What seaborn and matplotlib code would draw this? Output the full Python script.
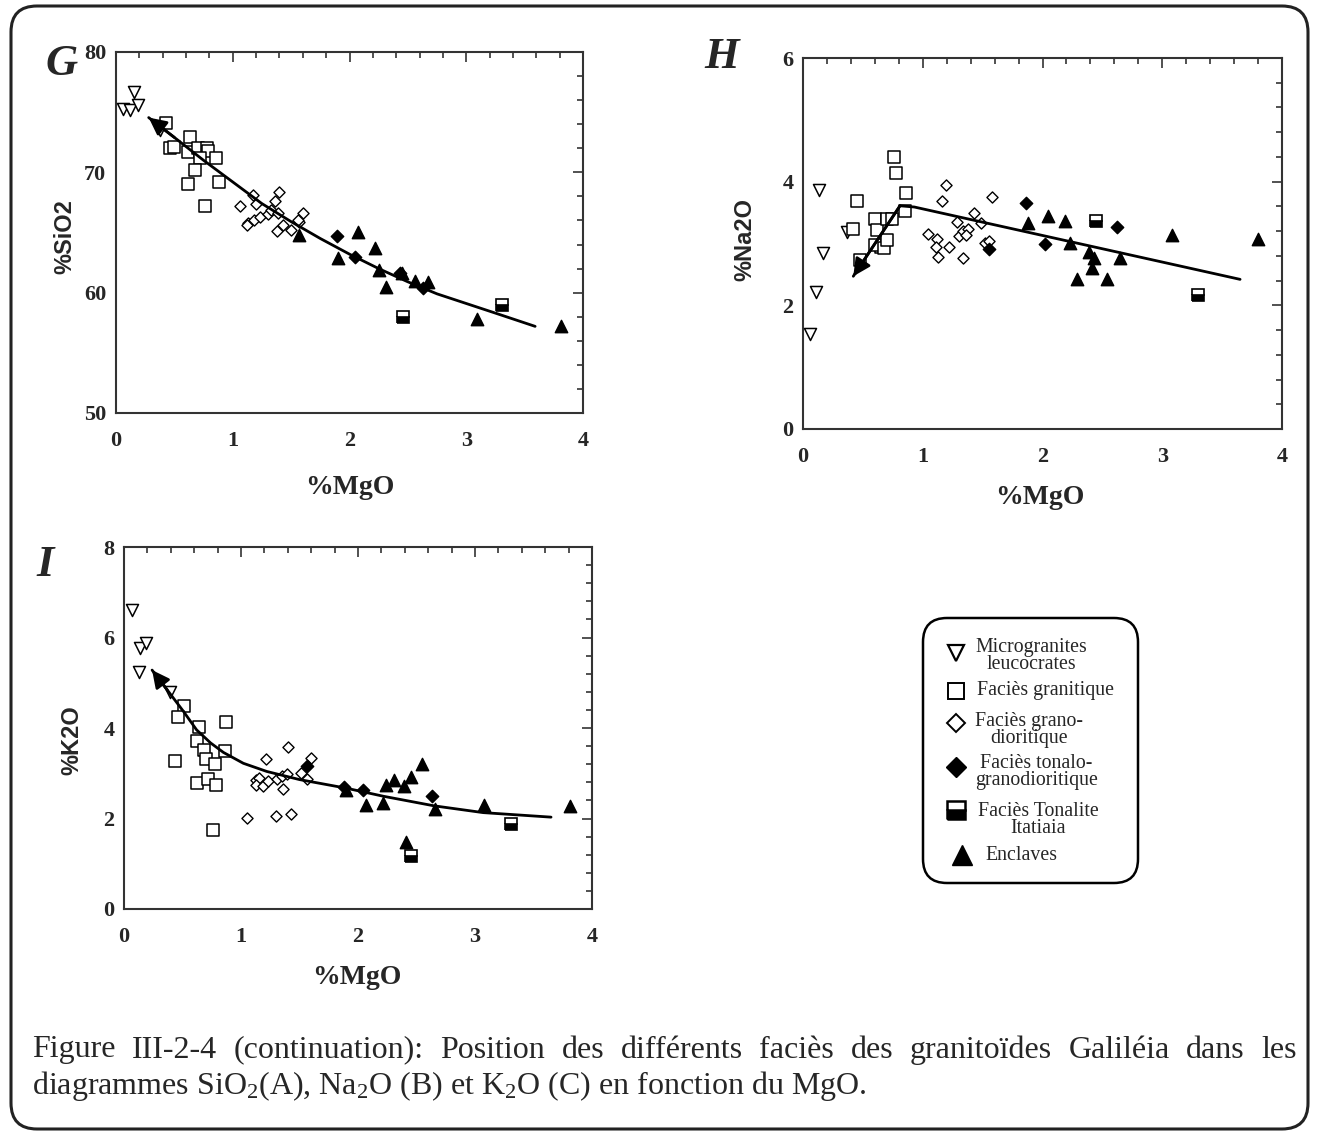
import numpy as np
import pandas as pd
import matplotlib
matplotlib.use("Agg")
import matplotlib.pyplot as plt
import seaborn as sns
from matplotlib.patches import FancyBboxPatch
from matplotlib.ticker import MultipleLocator

# facies codes: mi = microgranites leucocrates, gr = granitique,
# gd = grano-dioritique, tg = tonalo-granodioritique,
# ti = tonalite Itatiaia, en = enclaves
facies_order = ["mi", "gr", "gd", "tg", "ti", "en"]

# --- G : SiO2 vs MgO
g_mgo = [0.06, 0.12, 0.15, 0.19, 0.38,
         0.43, 0.46, 0.50, 0.63, 0.62, 0.70, 0.78, 0.79, 0.72, 0.86, 0.68, 0.62, 0.88, 0.76,
         1.06, 1.17, 1.20, 1.40, 1.36, 1.13, 1.12, 1.18, 1.23, 1.30, 1.33, 1.39, 1.38, 1.43,
         1.50, 1.57, 1.60, 1.56,
         1.89, 2.05, 2.43, 2.63,
         2.46, 3.31,
         1.57, 1.90, 2.07, 2.22, 2.25, 2.31, 2.45, 2.56, 2.67, 3.09, 3.81]
g_sio2 = [75.3, 75.2, 76.7, 75.6, 73.5,
          74.1, 72.0, 72.1, 72.9, 71.7, 72.0, 72.0, 71.8, 71.2, 71.2, 70.2, 69.0, 69.2, 67.2,
          67.2, 68.1, 67.4, 68.4, 67.6, 65.8, 65.6, 66.0, 66.3, 66.5, 66.9, 66.6, 65.1, 65.6,
          65.2, 65.9, 66.6, 66.0,
          64.7, 63.0, 61.6, 60.4,
          58.0, 59.0,
          64.8, 62.9, 65.0, 63.7, 61.9, 60.5, 61.6, 61.0, 60.9, 57.8, 57.2]
g_facies = ["mi"] * 5 + ["gr"] * 14 + ["gd"] * 18 + ["tg"] * 4 + ["ti"] * 2 + ["en"] * 11
g_trend_mgo = [0.28, 0.5, 0.75, 1.0, 1.25, 1.5, 1.75, 2.0, 2.25, 2.5, 2.75, 3.0, 3.25, 3.59]
g_trend_sio2 = [74.55, 72.9, 71.0, 69.2, 67.4, 65.9, 64.5, 63.2, 62.0, 60.9, 59.9, 59.1, 58.3, 57.2]

# --- H : Na2O vs MgO
h_mgo = [0.13, 0.06, 0.11, 0.17, 0.37,
         0.45, 0.42, 0.76, 0.78, 0.86, 0.85, 0.60, 0.62, 0.70, 0.74, 0.65, 0.60, 0.68, 0.70, 0.48,
         1.19, 1.16, 1.04, 1.12, 1.11, 1.13, 1.22, 1.29, 1.30, 1.34, 1.38, 1.36, 1.43, 1.49,
         1.34, 1.58, 1.52, 1.55,
         1.86, 2.02, 2.62, 1.55,
         2.45, 3.30,
         1.88, 2.05, 2.19, 2.23, 2.39, 2.43, 2.41, 2.29, 2.54, 2.65, 3.08, 3.80]
h_na2o = [3.87, 1.53, 2.21, 2.85, 3.18,
          3.69, 3.23, 4.40, 4.14, 3.82, 3.53, 3.40, 3.22, 3.39, 3.40, 2.95, 2.98, 2.93, 3.06, 2.73,
          3.95, 3.69, 3.15, 3.07, 2.94, 2.78, 2.94, 3.34, 3.12, 3.21, 3.24, 3.14, 3.49, 3.33,
          2.77, 3.76, 3.01, 3.04,
          3.66, 2.99, 3.26, 2.91,
          3.37, 2.17,
          3.33, 3.44, 3.36, 3.01, 2.86, 2.77, 2.60, 2.43, 2.43, 2.76, 3.14, 3.07]
h_facies = ["mi"] * 5 + ["gr"] * 15 + ["gd"] * 18 + ["tg"] * 4 + ["ti"] * 2 + ["en"] * 12
h_trend_mgo = [0.42, 0.81, 0.93, 2.0, 3.0, 3.65]
h_trend_na2o = [2.47, 3.61, 3.59, 3.13, 2.70, 2.42]

# --- I : K2O vs MgO
i_mgo = [0.07, 0.14, 0.19, 0.13, 0.39,
         0.51, 0.46, 0.44, 0.64, 0.62, 0.68, 0.70, 0.78, 0.86, 0.87, 0.62, 0.72, 0.79, 0.76,
         1.21, 1.13, 1.15, 1.13, 1.19, 1.23, 1.31, 1.35, 1.39, 1.36, 1.40, 1.51, 1.56, 1.60,
         1.30, 1.43, 1.05,
         1.88, 2.04, 2.63, 1.56,
         2.45, 3.31,
         1.90, 2.07, 2.21, 2.24, 2.31, 2.39, 2.45, 2.55, 2.66, 3.08, 3.81, 2.41]
i_k2o = [6.60, 5.76, 5.88, 5.24, 4.79,
         4.49, 4.24, 3.28, 4.03, 3.72, 3.51, 3.31, 3.21, 3.50, 4.14, 2.78, 2.87, 2.73, 1.75,
         3.31, 2.85, 2.89, 2.74, 2.72, 2.82, 2.87, 2.93, 2.99, 2.65, 3.57, 3.00, 2.87, 3.33,
         2.06, 2.10, 2.01,
         2.69, 2.62, 2.49, 3.15,
         1.18, 1.88,
         2.63, 2.30, 2.34, 2.73, 2.85, 2.72, 2.91, 3.21, 2.21, 2.30, 2.28, 1.49]
i_facies = ["mi"] * 5 + ["gr"] * 14 + ["gd"] * 17 + ["tg"] * 4 + ["ti"] * 2 + ["en"] * 12
i_trend_mgo = [0.24, 0.37, 0.51, 0.62, 0.74, 0.85, 1.02, 1.22, 1.5, 1.9, 2.22, 2.65, 3.07, 3.65]
i_trend_k2o = [5.28, 4.84, 4.36, 3.96, 3.67, 3.46, 3.22, 3.04, 2.86, 2.67, 2.49, 2.28, 2.13, 2.03]

legend_labels = ["Microgranites\nleucocrates", "Faciès granitique", "Faciès grano-\ndioritique",
                 "Faciès tonalo-\ngranodioritique", "Faciès Tonalite\nItatiaia", "Enclaves"]

caption1 = ("Figure III-2-4 (continuation): Position des différents faciès des "
            "granitoïdes Galiléia dans les")
caption2 = (r"diagrammes $\mathrm{SiO_2}$(A), $\mathrm{Na_2O}$ (B) et "
            r"$\mathrm{K_2O}$ (C) en fonction du MgO.")

sns.set_style("white")
plt.rcParams["font.family"] = ["Liberation Serif", "DejaVu Serif"]
plt.rcParams["mathtext.fontset"] = "custom"
plt.rcParams["mathtext.rm"] = "Liberation Serif"
plt.rcParams["mathtext.it"] = "Liberation Serif:italic"

W, H = 1317, 1132
fig = plt.figure(figsize=(W / 100, H / 100), dpi=100)

# background axes in pixel units for frame + caption
bg = fig.add_axes([0, 0, 1, 1], zorder=-5)
bg.set_xlim(0, W)
bg.set_ylim(H, 0)
bg.axis("off")
bg.add_patch(FancyBboxPatch((11, 6), 1297, 1123, boxstyle="round,pad=0,rounding_size=26",
                            fc="white", ec="#222222", lw=2.2, clip_on=False))

# marker styles (seaborn scatter for the simple ones)
styles = {
    "mi": dict(marker="v", s=75, color="white", edgecolor="black", linewidth=1.1),
    "gr": dict(marker="s", s=80, color="white", edgecolor="black", linewidth=1.1),
    "gd": dict(marker="D", s=32, color="white", edgecolor="black", linewidth=1.0),
    "tg": dict(marker="D", s=40, color="black", edgecolor="black", linewidth=1.0),
    "en": dict(marker="^", s=80, color="black", edgecolor="black", linewidth=1.0),
}


def px_rect(x0, y0, x1, y1):
    return [x0 / W, 1 - y1 / H, (x1 - x0) / W, (y1 - y0) / H]


def draw_panel(rect, mgo, vals, facies, tmgo, tvals, ylim, ymajor, yminor,
               ylabel, xlab_pos, ylab_pos):
    ax = fig.add_axes(rect)
    df = pd.DataFrame({"mgo": mgo, "val": vals, "facies": facies})
    for f in facies_order:
        sub = df[df["facies"] == f]
        if f == "ti":
            ax.plot(sub["mgo"], sub["val"], linestyle="none", marker="s", ms=9,
                    fillstyle="bottom", mfc="black", mfcalt="white", mec="black",
                    mew=1.2, zorder=3)
        else:
            sns.scatterplot(data=sub, x="mgo", y="val", ax=ax, zorder=3, **styles[f])
    sns.lineplot(x=tmgo, y=tvals, sort=False, estimator=None, color="black",
                 lw=2.0, ax=ax, zorder=4)
    ax.annotate("", xy=(tmgo[0], tvals[0]), xytext=(tmgo[1], tvals[1]),
                arrowprops=dict(arrowstyle="-|>", color="black", lw=2.0,
                                mutation_scale=26, shrinkA=0, shrinkB=0), zorder=5)
    ax.set_xlim(0, 4)
    ax.set_ylim(*ylim)
    ax.set_xticks([0, 1, 2, 3, 4])
    ax.xaxis.set_minor_locator(MultipleLocator(0.2))
    ax.yaxis.set_major_locator(MultipleLocator(ymajor))
    ax.yaxis.set_minor_locator(MultipleLocator(yminor))
    ax.tick_params(which="both", direction="in", top=True, right=True,
                   width=1.2, color="#333333")
    ax.tick_params(which="major", length=7)
    ax.tick_params(which="minor", length=4)
    ax.tick_params(axis="x", pad=13, labelsize=16)
    ax.tick_params(axis="y", pad=7, labelsize=16)
    for lbl in ax.get_xticklabels() + ax.get_yticklabels():
        lbl.set_fontweight("bold")
    for sp in ax.spines.values():
        sp.set_linewidth(1.5)
        sp.set_color("#333333")
    ax.set_xlabel("%MgO", fontsize=20, fontweight="bold")
    ax.set_ylabel(ylabel, fontsize=17, fontweight="bold", family="Liberation Sans")
    ax.xaxis.set_label_coords(*xlab_pos)
    ax.yaxis.set_label_coords(*ylab_pos)
    return ax


draw_panel(px_rect(116, 52, 583, 413), g_mgo, g_sio2, g_facies, g_trend_mgo, g_trend_sio2,
           (50, 80), 10, 2, "%SiO2", (0.50, -0.172), (-0.085, 0.49))
draw_panel(px_rect(803, 58, 1282, 429), h_mgo, h_na2o, h_facies, h_trend_mgo, h_trend_na2o,
           (0, 6), 2, 0.4, "%Na2O", (0.495, -0.151), (-0.098, 0.51))
draw_panel(px_rect(124, 547, 592, 909), i_mgo, i_k2o, i_facies, i_trend_mgo, i_trend_k2o,
           (0, 8), 2, 0.4, "%K2O", (0.498, -0.155), (-0.087, 0.467))

# panel letters
for letter, (x, y) in zip("GHI", [(62, 64), (722, 57), (45, 565)]):
    bg.text(x, y, letter, fontsize=32, fontweight="bold", fontstyle="italic",
            ha="center", va="center")

# legend box
lg = fig.add_axes(px_rect(922, 617, 1139, 884))
lg.set_xlim(0, 217)
lg.set_ylim(267, 0)
lg.axis("off")
lg.add_patch(FancyBboxPatch((1, 1), 215, 265, boxstyle="round,pad=0,rounding_size=24",
                            fc="white", ec="black", lw=1.8, clip_on=False))
leg_marks = [
    dict(marker="v", ms=11, mfc="white", mec="black", mew=1.6),
    dict(marker="s", ms=11, mfc="white", mec="black", mew=1.4),
    dict(marker="D", ms=9, mfc="white", mec="black", mew=1.4),
    dict(marker="D", ms=10, mfc="black", mec="black"),
    dict(marker="s", ms=13, fillstyle="bottom", mfc="black", mfcalt="white", mec="black", mew=1.8),
    dict(marker="^", ms=15, mfc="black", mec="black"),
]
leg_mark_pos = [(34, 36), (34, 74), (34, 106), (34, 150), (34, 193), (40, 238)]
leg_text_pos = [(53, 39), (55, 74), (53, 113), (53, 155), (56, 203), (63, 238)]
for lab, mk, (mx, my), (tx, ty) in zip(legend_labels, leg_marks, leg_mark_pos, leg_text_pos):
    lg.plot([mx], [my], linestyle="none", clip_on=False, **mk)
    lg.text(tx, ty, lab, fontsize=14.3, ha="left", va="center", multialignment="center",
            linespacing=0.9)

# caption, first line justified
renderer = fig.canvas.get_renderer()
words = caption1.split()
wtexts = [bg.text(0, 1050, w, fontsize=23, va="center", ha="left") for w in words]
widths = [t.get_window_extent(renderer).width for t in wtexts]
gap = (1297 - 32 - sum(widths)) / (len(words) - 1)
xpos = 32
for t, wd in zip(wtexts, widths):
    t.set_x(xpos)
    xpos += wd + gap
bg.text(32, 1086, caption2, fontsize=23, va="center", ha="left")

fig.savefig("out.png", dpi=100)
